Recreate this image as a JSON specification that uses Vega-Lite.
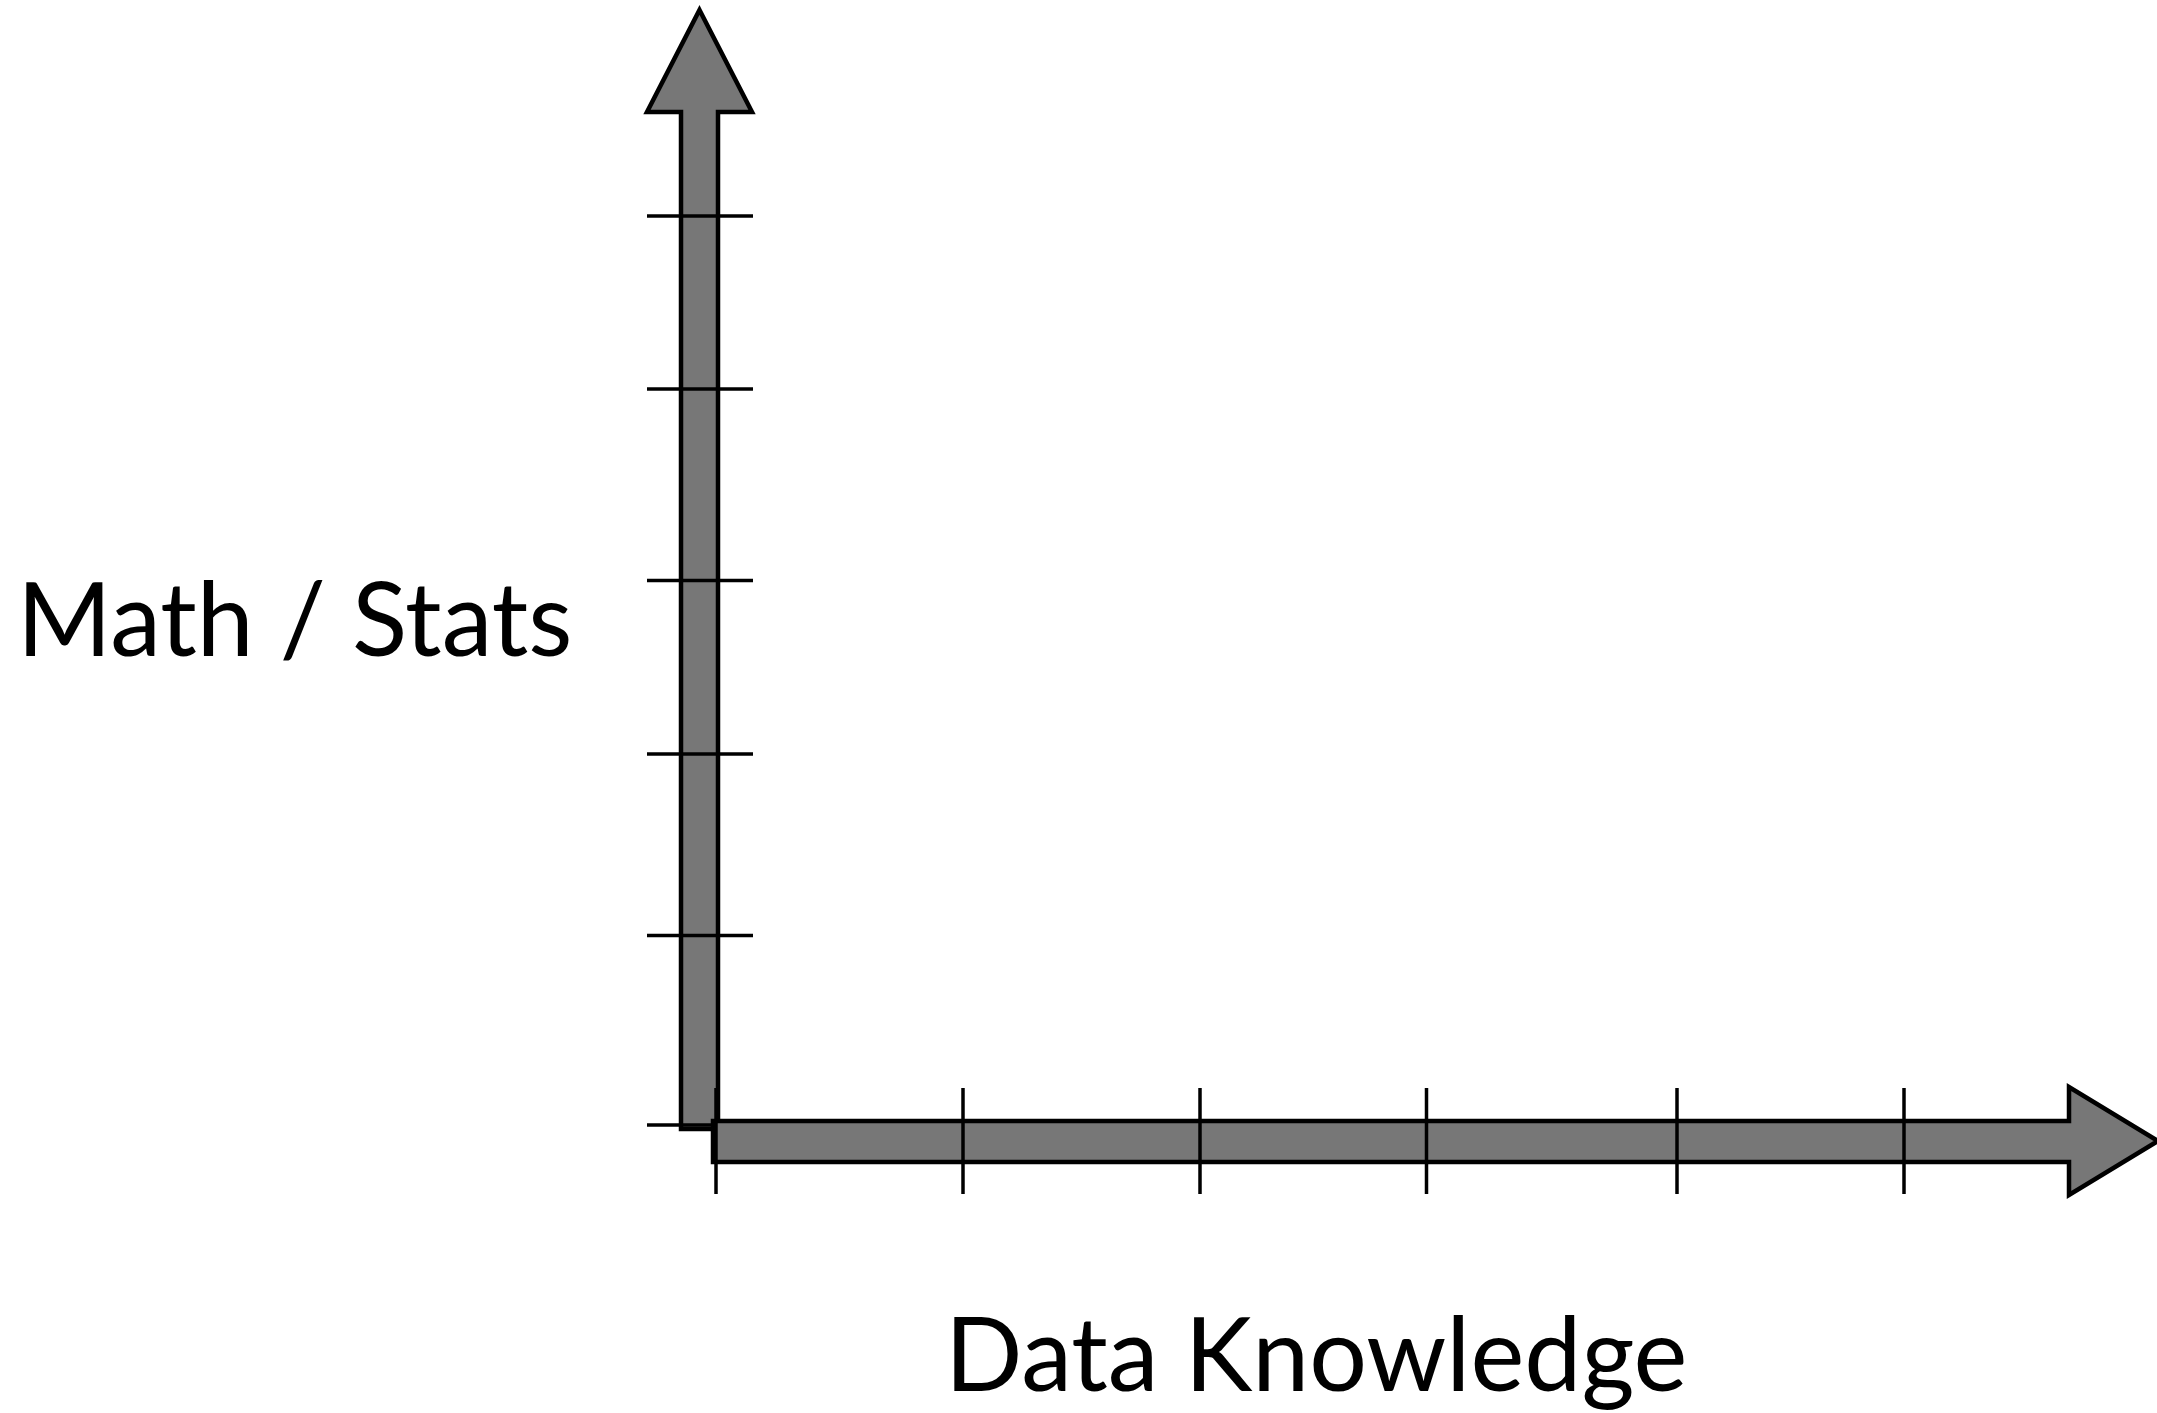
{
  "$schema": "https://vega.github.io/schema/vega-lite/v6.json",
  "width": 2157,
  "height": 1413,
  "autosize": {"type": "none"},
  "padding": 0,
  "background": "white",
  "config": {"view": {"stroke": null}},
  "datasets": {
    "arrows": [
      {"shape": "a_y", "i": 0, "x": 699.5, "y": 10},
      {"shape": "a_y", "i": 1, "x": 752, "y": 112},
      {"shape": "a_y", "i": 2, "x": 718, "y": 112},
      {"shape": "a_y", "i": 3, "x": 718, "y": 1129},
      {"shape": "a_y", "i": 4, "x": 681, "y": 1129},
      {"shape": "a_y", "i": 5, "x": 681, "y": 112},
      {"shape": "a_y", "i": 6, "x": 647, "y": 112},
      {"shape": "b_x", "i": 0, "x": 2158, "y": 1141},
      {"shape": "b_x", "i": 1, "x": 2069, "y": 1195},
      {"shape": "b_x", "i": 2, "x": 2069, "y": 1162},
      {"shape": "b_x", "i": 3, "x": 713, "y": 1162},
      {"shape": "b_x", "i": 4, "x": 713, "y": 1121},
      {"shape": "b_x", "i": 5, "x": 2069, "y": 1121},
      {"shape": "b_x", "i": 6, "x": 2069, "y": 1087}
    ],
    "ticks": [
      {"axis": "y", "x": 647, "x2": 753, "y": 216, "y2": 216},
      {"axis": "y", "x": 647, "x2": 753, "y": 389, "y2": 389},
      {"axis": "y", "x": 647, "x2": 753, "y": 580.5, "y2": 580.5},
      {"axis": "y", "x": 647, "x2": 753, "y": 754, "y2": 754},
      {"axis": "y", "x": 647, "x2": 753, "y": 935.5, "y2": 935.5},
      {"axis": "y", "x": 647, "x2": 716, "y": 1125, "y2": 1125},
      {"axis": "x", "x": 716, "x2": 716, "y": 1088, "y2": 1194},
      {"axis": "x", "x": 963, "x2": 963, "y": 1088, "y2": 1194},
      {"axis": "x", "x": 1200, "x2": 1200, "y": 1088, "y2": 1194},
      {"axis": "x", "x": 1426.5, "x2": 1426.5, "y": 1088, "y2": 1194},
      {"axis": "x", "x": 1677, "x2": 1677, "y": 1088, "y2": 1194},
      {"axis": "x", "x": 1904, "x2": 1904, "y": 1088, "y2": 1194}
    ],
    "labels": [
      {"label": "Math / Stats", "x": 17, "y": 656},
      {"label": "Data Knowledge", "x": 945, "y": 1391}
    ]
  },
  "layer": [
    {
      "data": {"name": "arrows"},
      "mark": {"type": "line", "interpolate": "linear-closed", "fill": "#777777", "stroke": "black", "strokeWidth": 4.5, "strokeJoin": "miter"},
      "encoding": {
        "x": {"field": "x", "type": "quantitative", "scale": {"domain": [0, 2157], "nice": false, "zero": false}, "axis": null},
        "y": {"field": "y", "type": "quantitative", "scale": {"domain": [0, 1413], "reverse": true, "nice": false, "zero": false}, "axis": null},
        "detail": {"field": "shape", "type": "nominal"},
        "order": {"field": "i", "type": "quantitative"}
      }
    },
    {
      "data": {"name": "ticks"},
      "mark": {"type": "rule", "color": "black", "strokeWidth": 3.5},
      "encoding": {
        "x": {"field": "x", "type": "quantitative", "scale": {"domain": [0, 2157], "nice": false, "zero": false}, "axis": null},
        "x2": {"field": "x2"},
        "y": {"field": "y", "type": "quantitative", "scale": {"domain": [0, 1413], "reverse": true, "nice": false, "zero": false}, "axis": null},
        "y2": {"field": "y2"}
      }
    },
    {
      "data": {"name": "labels"},
      "mark": {"type": "text", "align": "left", "baseline": "alphabetic", "font": "Lato", "fontSize": 102, "color": "black"},
      "encoding": {
        "x": {"field": "x", "type": "quantitative", "scale": {"domain": [0, 2157], "nice": false, "zero": false}, "axis": null},
        "y": {"field": "y", "type": "quantitative", "scale": {"domain": [0, 1413], "reverse": true, "nice": false, "zero": false}, "axis": null},
        "text": {"field": "label"}
      }
    }
  ]
}
